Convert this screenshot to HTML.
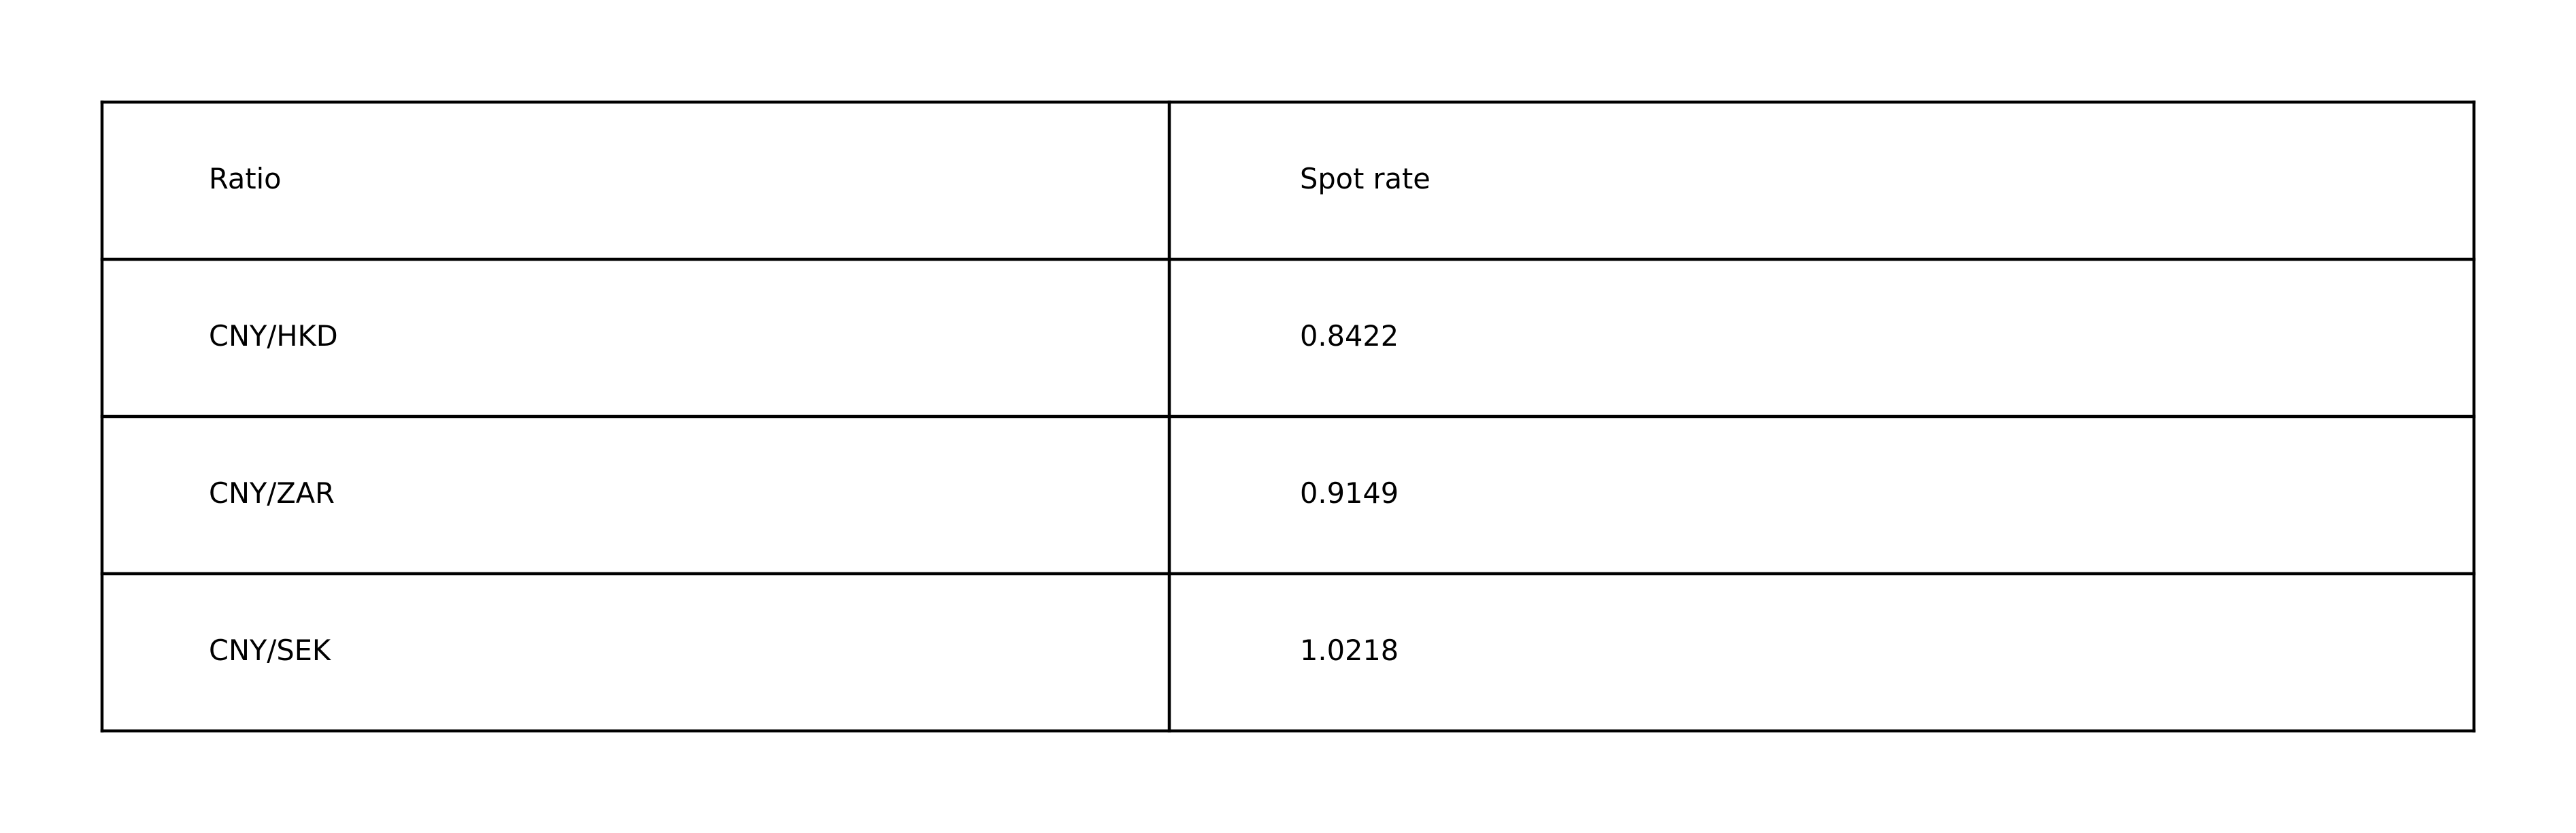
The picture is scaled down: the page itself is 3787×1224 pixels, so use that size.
<!DOCTYPE html>
<html><head><meta charset="utf-8"><style>
html,body{margin:0;padding:0;background:#fff;}
svg{display:block;}
text{font-family:"DejaVu Sans","Liberation Sans",sans-serif;font-size:41.5px;fill:#000;}
</style></head><body>
<svg width="3787" height="1224">
<g id="tbl"></g>
</svg>
<script>
const headers=["Ratio","Spot rate"];
const ratios=["CNY/HKD","CNY/ZAR","CNY/SEK"];
const rates=["0.8422","0.9149","1.0218"];
const ns="http://www.w3.org/2000/svg";
const g=document.getElementById('tbl');
const L=150,R=3637,T=150,B=1074,M=1719,tx=[307,1911];
const rows=[headers].concat(ratios.map((r,i)=>[r,rates[i]]));
const rh=(B-T)/rows.length;
function line(x1,y1,x2,y2,n){const l=document.createElementNS(ns,'line');
l.setAttribute('x1',x1);l.setAttribute('y1',y1);l.setAttribute('x2',x2);l.setAttribute('y2',y2);
l.setAttribute('stroke','#000');l.setAttribute('stroke-width','4.5');l.setAttribute('stroke-linecap','square');


g.appendChild(l);}
for(let i=0;i<=rows.length;i++)line(L,T+i*rh,R,T+i*rh,'row-border');
line(L,T,L,B,'left-border');line(M,T,M,B,'column-divider');line(R,T,R,B,'right-border');
rows.forEach((row,i)=>row.forEach((v,j)=>{const t=document.createElementNS(ns,'text');
t.setAttribute('x',tx[j]);t.setAttribute('y',T+i*rh+rh/2+11.5);t.textContent=v;


g.appendChild(t);}));
</script>
</body></html>
